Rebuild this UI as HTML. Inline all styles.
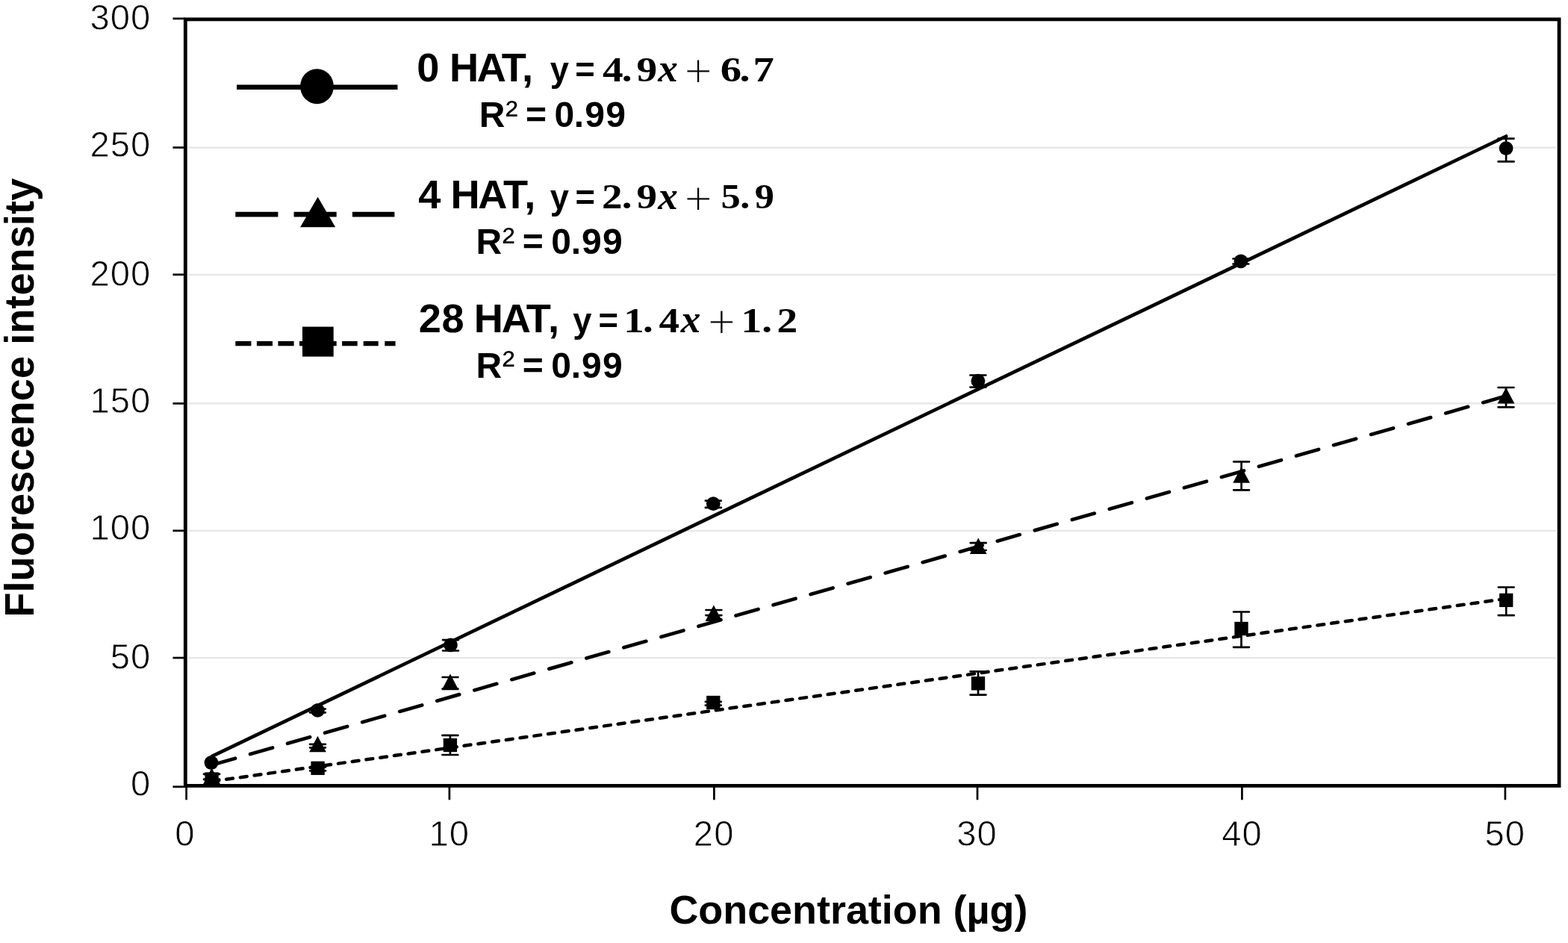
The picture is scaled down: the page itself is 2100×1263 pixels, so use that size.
<!DOCTYPE html>
<html><head><meta charset="utf-8"><title>Fluorescence intensity vs Concentration</title>
<style>
html,body{margin:0;padding:0;background:#fff;}
body{width:2100px;height:1263px;overflow:hidden;}
svg{display:block;}
text{font-kerning:none;fill:#000;}
.thin{stroke:#fff;stroke-width:0.9px;}
.tl{font-family:"Liberation Sans", Arial, sans-serif;stroke:#fff;stroke-width:0.8px;}
</style></head><body>
<svg width="2100" height="1263" viewBox="0 0 2100 1263">
<rect width="2100" height="1263" fill="#fff"/>
<line x1="252" x2="2084" y1="881.05" y2="881.05" stroke="#e6e6e6" stroke-width="2.2"/>
<line x1="252" x2="2084" y1="710.8" y2="710.8" stroke="#e6e6e6" stroke-width="2.2"/>
<line x1="252" x2="2084" y1="540.4" y2="540.4" stroke="#e6e6e6" stroke-width="2.2"/>
<line x1="252" x2="2084" y1="367.8" y2="367.8" stroke="#e6e6e6" stroke-width="2.2"/>
<line x1="252" x2="2084" y1="197.6" y2="197.6" stroke="#e6e6e6" stroke-width="2.2"/>
<line x1="231.5" x2="248" y1="1053.7" y2="1053.7" stroke="#000" stroke-width="2.7"/>
<line x1="231.5" x2="248" y1="881.05" y2="881.05" stroke="#000" stroke-width="2.7"/>
<line x1="231.5" x2="248" y1="710.8" y2="710.8" stroke="#000" stroke-width="2.7"/>
<line x1="231.5" x2="248" y1="540.4" y2="540.4" stroke="#000" stroke-width="2.7"/>
<line x1="231.5" x2="248" y1="367.8" y2="367.8" stroke="#000" stroke-width="2.7"/>
<line x1="231.5" x2="248" y1="197.6" y2="197.6" stroke="#000" stroke-width="2.7"/>
<line x1="231.5" x2="248" y1="24.9" y2="24.9" stroke="#000" stroke-width="2.7"/>
<line x1="249.6" x2="249.6" y1="1052" y2="1071.3" stroke="#000" stroke-width="2.7"/>
<line x1="601.9" x2="601.9" y1="1052" y2="1071.3" stroke="#000" stroke-width="2.7"/>
<line x1="956.4" x2="956.4" y1="1052" y2="1071.3" stroke="#000" stroke-width="2.7"/>
<line x1="1309" x2="1309" y1="1052" y2="1071.3" stroke="#000" stroke-width="2.7"/>
<line x1="1663.4" x2="1663.4" y1="1052" y2="1071.3" stroke="#000" stroke-width="2.7"/>
<line x1="2015.9" x2="2015.9" y1="1052" y2="1071.3" stroke="#000" stroke-width="2.7"/>
<rect x="248.3" y="25.9" width="1839.8" height="1026.5" fill="none" stroke="#000" stroke-width="4.8"/>
<text class="tl" x="175.09" y="1066.24" font-size="47.2" letter-spacing="1.1">0</text>
<text class="tl" x="147.74" y="895.64" font-size="47.2" letter-spacing="1.1">50</text>
<text class="tl" x="120.39" y="723.24" font-size="47.2" letter-spacing="1.1">100</text>
<text class="tl" x="120.39" y="552.94" font-size="47.2" letter-spacing="1.1">150</text>
<text class="tl" x="120.39" y="382.74" font-size="47.2" letter-spacing="1.1">200</text>
<text class="tl" x="120.39" y="210.14" font-size="47.2" letter-spacing="1.1">250</text>
<text class="tl" x="120.39" y="39.64" font-size="47.2" letter-spacing="1.1">300</text>
<text class="tl" x="234.27" y="1132.74" font-size="47.2" letter-spacing="1.1">0</text>
<text class="tl" x="574.52" y="1132.74" font-size="47.2" letter-spacing="1.1">10</text>
<text class="tl" x="928.83" y="1132.74" font-size="47.2" letter-spacing="1.1">20</text>
<text class="tl" x="1281.22" y="1132.74" font-size="47.2" letter-spacing="1.1">30</text>
<text class="tl" x="1636.18" y="1132.74" font-size="47.2" letter-spacing="1.1">40</text>
<text class="tl" x="1988.38" y="1132.74" font-size="47.2" letter-spacing="1.1">50</text>
<text font-family='"Liberation Sans", Arial, sans-serif' font-size="54.8" font-weight="bold" transform="translate(44.9 826.63) rotate(-90) scale(0.9899 1)">Fluorescence intensity</text>
<text font-family='"Liberation Sans", Arial, sans-serif' font-size="53.95" font-weight="bold" transform="translate(896.39 1236.87) scale(0.9992 1)">Concentration (µg)</text>
<line x1="284" y1="1012.8" x2="2017.2" y2="182.5" stroke="#000" stroke-width="4.7" stroke-linecap="round"/>
<line x1="284" y1="1024.6" x2="2017.2" y2="530.3" stroke="#000" stroke-width="4.7" stroke-linecap="round" stroke-dasharray="31.2 20.83" stroke-dashoffset="-1.07"/>
<line x1="284" y1="1046.5" x2="2017.2" y2="801.8" stroke="#000" stroke-width="4.5" stroke-linecap="round" stroke-dasharray="8.9 10.02" stroke-dashoffset="-0.4"/>
<path d="M283.6 1036.8V1043.9M273.15 1036.8H294.05M273.15 1043.9H294.05" stroke="#000" stroke-width="2.7" stroke-linecap="round" fill="none"/>
<rect x="274.45" y="1034.35" width="18.3" height="18.3" fill="#000"/>
<path d="M425.6 1027.4V1032.3M415.15 1027.4H436.05M415.15 1032.3H436.05" stroke="#000" stroke-width="2.7" stroke-linecap="round" fill="none"/>
<rect x="416.45" y="1019.65" width="18.3" height="18.3" fill="#000"/>
<path d="M602.9 984.9V1011M592.45 984.9H613.35M592.45 1011H613.35" stroke="#000" stroke-width="2.7" stroke-linecap="round" fill="none"/>
<rect x="593.75" y="988.85" width="18.3" height="18.3" fill="#000"/>
<path d="M955.3 939.9V944.7M944.85 939.9H965.75M944.85 944.7H965.75" stroke="#000" stroke-width="2.7" stroke-linecap="round" fill="none"/>
<rect x="946.15" y="931.85" width="18.3" height="18.3" fill="#000"/>
<path d="M1310 899.3V930.6M1299.55 899.3H1320.45M1299.55 930.6H1320.45" stroke="#000" stroke-width="2.7" stroke-linecap="round" fill="none"/>
<rect x="1300.85" y="906.15" width="18.3" height="18.3" fill="#000"/>
<path d="M1662.5 819.5V866.8M1652.05 819.5H1672.95M1652.05 866.8H1672.95" stroke="#000" stroke-width="2.7" stroke-linecap="round" fill="none"/>
<rect x="1653.35" y="832.85" width="18.3" height="18.3" fill="#000"/>
<path d="M2017.2 786.5V824.2M2006.75 786.5H2027.65M2006.75 824.2H2027.65" stroke="#000" stroke-width="2.7" stroke-linecap="round" fill="none"/>
<rect x="2008.05" y="794.75" width="18.3" height="18.3" fill="#000"/>
<path d="M283.5 1036.8V1043.9M273.05 1036.8H293.95M273.05 1043.9H293.95" stroke="#000" stroke-width="2.7" stroke-linecap="round" fill="none"/>
<path d="M283.5 1028.4L294.85 1050L272.15 1050Z" fill="#000"/>
<path d="M425.5 996.8V1001.3M415.05 996.8H435.95M415.05 1001.3H435.95" stroke="#000" stroke-width="2.7" stroke-linecap="round" fill="none"/>
<path d="M425.5 985.7L436.85 1007.3L414.15 1007.3Z" fill="#000"/>
<path d="M603 907V922.5M592.55 907H613.45M592.55 922.5H613.45" stroke="#000" stroke-width="2.7" stroke-linecap="round" fill="none"/>
<path d="M603 902.6L614.35 924.2L591.65 924.2Z" fill="#000"/>
<path d="M955.9 817V824.1M945.45 817H966.35M945.45 824.1H966.35" stroke="#000" stroke-width="2.7" stroke-linecap="round" fill="none"/>
<path d="M955.9 810.4L967.25 832L944.55 832Z" fill="#000"/>
<path d="M1310.2 727.2V737M1299.75 727.2H1320.65M1299.75 737H1320.65" stroke="#000" stroke-width="2.7" stroke-linecap="round" fill="none"/>
<path d="M1310.2 720.5L1321.55 742.1L1298.85 742.1Z" fill="#000"/>
<path d="M1662.6 618.3V656.3M1652.15 618.3H1673.05M1652.15 656.3H1673.05" stroke="#000" stroke-width="2.7" stroke-linecap="round" fill="none"/>
<path d="M1662.6 625.2L1673.95 646.8L1651.25 646.8Z" fill="#000"/>
<path d="M2017 519V545.3M2006.55 519H2027.45M2006.55 545.3H2027.45" stroke="#000" stroke-width="2.7" stroke-linecap="round" fill="none"/>
<path d="M2017 518.9L2028.35 540.5L2005.65 540.5Z" fill="#000"/>
<circle cx="283" cy="1021.5" r="9.4" fill="#000"/>
<path d="M425.4 949.5V954.3M414.95 949.5H435.85M414.95 954.3H435.85" stroke="#000" stroke-width="2.7" stroke-linecap="round" fill="none"/>
<circle cx="425.4" cy="951.4" r="9.4" fill="#000"/>
<path d="M603.5 857.1V871.5M593.05 857.1H613.95M593.05 871.5H613.95" stroke="#000" stroke-width="2.7" stroke-linecap="round" fill="none"/>
<circle cx="603.5" cy="863.8" r="9.4" fill="#000"/>
<path d="M955.3 670.6V679.9M944.85 670.6H965.75M944.85 679.9H965.75" stroke="#000" stroke-width="2.7" stroke-linecap="round" fill="none"/>
<circle cx="955.3" cy="674.6" r="9.4" fill="#000"/>
<path d="M1309.9 502.5V518.6M1299.45 502.5H1320.35M1299.45 518.6H1320.35" stroke="#000" stroke-width="2.7" stroke-linecap="round" fill="none"/>
<circle cx="1309.9" cy="510.2" r="9.4" fill="#000"/>
<path d="M1661.9 346.5V353.5M1651.45 346.5H1672.35M1651.45 353.5H1672.35" stroke="#000" stroke-width="2.7" stroke-linecap="round" fill="none"/>
<circle cx="1661.9" cy="349.8" r="9.4" fill="#000"/>
<path d="M2017.1 185.6V216.4M2006.65 185.6H2027.55M2006.65 216.4H2027.55" stroke="#000" stroke-width="2.7" stroke-linecap="round" fill="none"/>
<circle cx="2017.1" cy="198.6" r="9.4" fill="#000"/>
<line x1="317.1" x2="532.5" y1="116.8" y2="116.8" stroke="#000" stroke-width="6.6"/>
<ellipse cx="424.5" cy="115.7" rx="22.4" ry="23.5" fill="#000"/>
<line x1="315.3" x2="372.4" y1="287.1" y2="287.1" stroke="#000" stroke-width="6.8"/>
<line x1="393.6" x2="450.7" y1="287.1" y2="287.1" stroke="#000" stroke-width="6.8"/>
<line x1="471.9" x2="528.4" y1="287.1" y2="287.1" stroke="#000" stroke-width="6.8"/>
<path d="M425.6 263.7L449.2 304.3L402.1 304.3Z" fill="#000"/>
<line x1="315.3" x2="336.4" y1="460.1" y2="460.1" stroke="#000" stroke-width="6.4"/>
<line x1="343.9" x2="365" y1="460.1" y2="460.1" stroke="#000" stroke-width="6.4"/>
<line x1="372.4" x2="393.6" y1="460.1" y2="460.1" stroke="#000" stroke-width="6.4"/>
<line x1="401" x2="422.1" y1="460.1" y2="460.1" stroke="#000" stroke-width="6.4"/>
<line x1="429.6" x2="450.7" y1="460.1" y2="460.1" stroke="#000" stroke-width="6.4"/>
<line x1="458.1" x2="478.7" y1="460.1" y2="460.1" stroke="#000" stroke-width="6.4"/>
<line x1="486.7" x2="506.7" y1="460.1" y2="460.1" stroke="#000" stroke-width="6.4"/>
<line x1="515.3" x2="529.6" y1="460.1" y2="460.1" stroke="#000" stroke-width="6.4"/>
<rect x="405" y="437.6" width="41.7" height="40" fill="#000"/>
<text style="white-space:pre"><tspan font-family='"Liberation Sans", Arial, sans-serif' font-size="54.2" font-weight="bold" x="558.17 588.31 601.89 638.77 671.83 698.99" y="108.6">0 HAT,</tspan></text>
<text style="white-space:pre"><tspan font-family='"Liberation Sans", Arial, sans-serif' font-size="45.3" font-weight="bold" x="736.75 761.94 770.36" y="108.9">y =</tspan></text>
<text style="white-space:pre" transform="scale(1.1773 1)"><tspan font-family='"Liberation Serif", "Times New Roman", serif' font-size="47" font-weight="bold" x="685.41 707.43 724.14" y="108.9">4.9</tspan></text>
<text style="white-space:pre"><tspan font-family='"Liberation Serif", "Times New Roman", serif' font-size="53.2" font-weight="bold" font-style="italic" x="881.37" y="108.9">x</tspan></text>
<text style="white-space:pre"><tspan class="thin" font-family='"Liberation Serif", "Times New Roman", serif' font-size="65.3" x="916.7" y="117.3">+</tspan></text>
<text style="white-space:pre" transform="scale(1.2050 1)"><tspan font-family='"Liberation Serif", "Times New Roman", serif' font-size="47" font-weight="bold" x="800.67 822.1 837.03" y="108.9">6.7</tspan></text>
<text style="white-space:pre"><tspan font-family='"Liberation Sans", Arial, sans-serif' font-size="48" font-weight="bold" x="641.7" y="170">R</tspan><tspan font-family='"Liberation Sans", Arial, sans-serif' font-size="49.9" x="676.97" y="169.6">²</tspan><tspan font-family='"Liberation Sans", Arial, sans-serif' font-size="48" font-weight="bold" x="693.58 703.97 732 742.39 768.86 783.26 811.31" y="170"> = 0.99</tspan></text>
<text style="white-space:pre"><tspan font-family='"Liberation Sans", Arial, sans-serif' font-size="54.2" font-weight="bold" x="560.36 590.51 603.44 640.27 673.93 702.14" y="278.9">4 HAT,</tspan></text>
<text style="white-space:pre"><tspan font-family='"Liberation Sans", Arial, sans-serif' font-size="45.3" font-weight="bold" x="736.75 761.94 770.41" y="279.5">y =</tspan></text>
<text style="white-space:pre" transform="scale(1.1735 1)"><tspan font-family='"Liberation Serif", "Times New Roman", serif' font-size="47" font-weight="bold" x="686.8 709.73 726.52" y="279.5">2.9</tspan></text>
<text style="white-space:pre"><tspan font-family='"Liberation Serif", "Times New Roman", serif' font-size="53.2" font-weight="bold" font-style="italic" x="881.37" y="279.5">x</tspan></text>
<text style="white-space:pre"><tspan class="thin" font-family='"Liberation Serif", "Times New Roman", serif' font-size="65.3" x="916.7" y="287.9">+</tspan></text>
<text style="white-space:pre" transform="scale(1.1175 1)"><tspan font-family='"Liberation Serif", "Times New Roman", serif' font-size="47" font-weight="bold" x="864.07 886.93 904.53" y="279.5">5.9</tspan></text>
<text style="white-space:pre"><tspan font-family='"Liberation Sans", Arial, sans-serif' font-size="48" font-weight="bold" x="637.5" y="340.3">R</tspan><tspan font-family='"Liberation Sans", Arial, sans-serif' font-size="49.9" x="672.77" y="339.9">²</tspan><tspan font-family='"Liberation Sans", Arial, sans-serif' font-size="48" font-weight="bold" x="689.38 699.77 727.8 738.19 764.66 779.06 807.11" y="340.3"> = 0.99</tspan></text>
<text style="white-space:pre"><tspan font-family='"Liberation Sans", Arial, sans-serif' font-size="54.2" font-weight="bold" x="560.72 591.55 621.7 634.79 671.82 704.73 734.04" y="444.7">28 HAT,</tspan></text>
<text style="white-space:pre"><tspan font-family='"Liberation Sans", Arial, sans-serif' font-size="45.3" font-weight="bold" x="767.35 792.54 801.41" y="445">y =</tspan></text>
<text style="white-space:pre" transform="scale(1.1685 1)"><tspan font-family='"Liberation Serif", "Times New Roman", serif' font-size="47" font-weight="bold" x="714.73 736.93 755.26" y="445">1.4</tspan></text>
<text style="white-space:pre"><tspan font-family='"Liberation Serif", "Times New Roman", serif' font-size="53.2" font-weight="bold" font-style="italic" x="911.67" y="445">x</tspan></text>
<text style="white-space:pre"><tspan class="thin" font-family='"Liberation Serif", "Times New Roman", serif' font-size="65.3" x="948" y="453.4">+</tspan></text>
<text style="white-space:pre" transform="scale(1.1793 1)"><tspan font-family='"Liberation Serif", "Times New Roman", serif' font-size="47" font-weight="bold" x="841.67 865.04 882.3" y="445">1.2</tspan></text>
<text style="white-space:pre"><tspan font-family='"Liberation Sans", Arial, sans-serif' font-size="48" font-weight="bold" x="637.5" y="505.8">R</tspan><tspan font-family='"Liberation Sans", Arial, sans-serif' font-size="49.9" x="672.77" y="505.4">²</tspan><tspan font-family='"Liberation Sans", Arial, sans-serif' font-size="48" font-weight="bold" x="689.38 699.77 727.8 738.19 764.66 779.06 807.11" y="505.8"> = 0.99</tspan></text>
</svg>
</body></html>
